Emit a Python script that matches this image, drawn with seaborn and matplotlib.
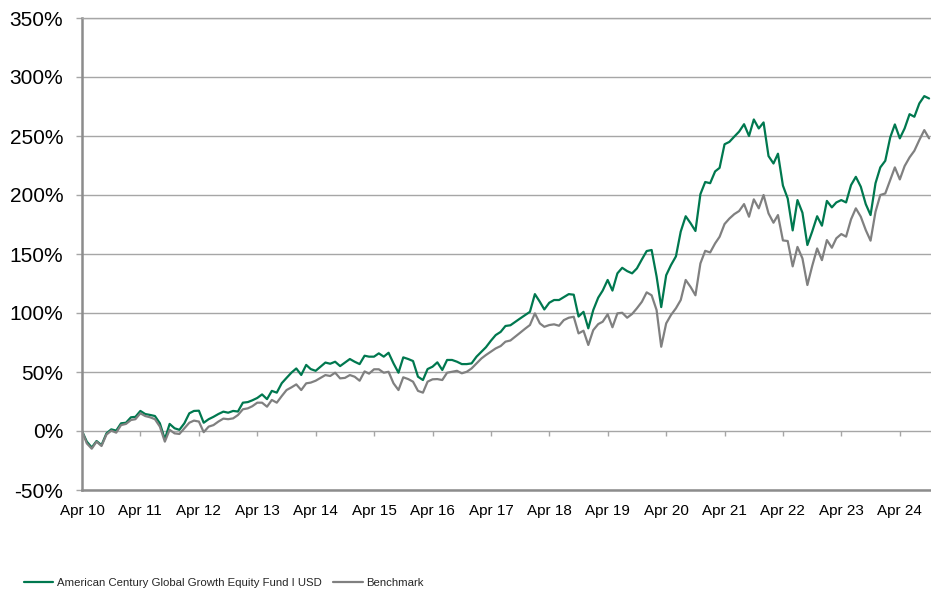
import pandas as pd
import numpy as np
import seaborn as sns
import matplotlib.pyplot as plt
import matplotlib.dates as mdates
from matplotlib.ticker import FuncFormatter

# cumulative growth, monthly from Apr 2010 (values in %)
fund = [
    0, -9, -14, -8.5, -12, -2, 1.4, 0.3, 6.5, 7,
    11.6, 12, 17, 14.4, 13.6, 12.7, 6.5, -7, 6, 2.3,
    1, 6.5, 15, 17, 17.2, 7, 10, 12, 14.4, 16.4,
    15.5, 17, 16.5, 24, 24.5, 26, 28, 31, 27, 34,
    32.5, 40.5, 45, 49.5, 53, 47.5, 56, 52.5, 51, 54.5,
    58, 57, 58.7, 55, 58, 61, 58.7, 56.7, 63.8, 63,
    63, 65.8, 63, 66.3, 57.3, 49.4, 62.4, 61, 59.3, 46,
    43.2, 52.5, 54.5, 58.2, 51.7, 60.2, 60.2, 58.7, 56.7, 56.7,
    57.3, 63, 67.2, 71, 76.5, 81.3, 84, 89, 89.6, 92.6,
    95.4, 98.3, 101, 116, 109.5, 103, 108.7, 111, 111, 113.5,
    116, 115.5, 97, 101, 87, 102.5, 113, 119, 128, 119,
    133.6, 138.3, 135.5, 133.6, 137.8, 145.4, 152.5, 153.4, 131, 105,
    132, 140.6, 148, 169, 182, 176, 169.5, 200.7, 211, 210,
    220, 223, 243, 245, 249.5, 253.7, 260, 250, 264, 256.4,
    261.5, 233, 226.7, 235, 208, 197, 170, 195.7, 185, 157.6,
    169, 182, 174, 195, 189.5, 193.7, 195.7, 193.7, 208.4, 215.4,
    207, 192.3, 183, 210, 223.4, 229, 248.8, 259.8, 248, 256.4,
    268.5, 266.3, 277.6, 283.8, 281.8,
]
benchmark = [
    0, -10.5, -15, -9, -12.7, -3, 0.3, -1.4, 5, 6,
    9.3, 10, 15, 12.7, 11.6, 10, 3.7, -9, 1, -2,
    -2.5, 2.3, 7, 8.8, 8, -1, 3.7, 5, 8, 10.5,
    10, 10.7, 13.5, 18.4, 19.2, 21, 24, 24, 20.6, 26.3,
    24, 29.6, 34.7, 37, 39.5, 34.7, 40.4, 41, 42.6, 45,
    47.4, 46.6, 49.4, 44.6, 45, 47.4, 46, 42.6, 50.5, 48.6,
    52.3, 52.3, 49.4, 50.2, 40.4, 34.7, 45.5, 44, 41.8, 34,
    32.5, 41.8, 43.8, 44, 43.2, 49.4, 50.2, 51, 48.9, 50.2,
    53, 57.3, 61.5, 64.4, 67.2, 70, 72, 75.7, 76.7, 80,
    83.3, 86.7, 89.8, 99.7, 91.2, 88.3, 89.8, 90.4, 89.2, 94,
    96, 96.8, 82.7, 85, 72.9, 85.5, 90.6, 92.6, 98.9, 87.9,
    99.7, 100.2, 96, 99.2, 104, 109.5, 117.5, 115, 102.5, 71.4,
    91.2, 98.3, 104, 111, 128, 122, 115, 142, 152.7, 151.3,
    159, 164.6, 175.4, 180, 183.8, 186.4, 192.3, 181.6, 196.3, 188.7,
    200, 184.4, 176.5, 183, 161.5, 161, 139.5, 156, 146.3, 123.7,
    139.8, 154.7, 144.8, 161.8, 155.3, 163.3, 166.9, 164.7, 179.4, 188.7,
    181.6, 170.3, 161.3, 185.8, 200, 201.3, 212.6, 223.4, 213.2, 224.5,
    231.9, 237.5, 246.6, 255, 248,
]
series_names = ['American Century Global Growth Equity Fund I USD', 'Benchmark']
series_colors = ['#00784F', '#808080']
start_month = '2010-04-01'
tick_years = list(range(2010, 2025))
y_ticks = [-50, 0, 50, 100, 150, 200, 250, 300, 350]

dates = pd.date_range(start_month, periods=len(fund), freq='MS')
df = pd.DataFrame({
    'date': np.concatenate([dates, dates]),
    'value': fund + benchmark,
    'series': [series_names[0]] * len(fund) + [series_names[1]] * len(benchmark),
})

sns.set_style('white')
plt.rcParams['font.family'] = ['Liberation Sans', 'DejaVu Sans']

fig = plt.figure(figsize=(9.31, 5.96), dpi=100)
ax = fig.add_axes([82 / 931, 1 - 490 / 596, 1 - 82 / 931, (490 - 18) / 596])

sns.lineplot(data=df, x='date', y='value', hue='series', palette=series_colors,
             linewidth=1.6, ax=ax, legend=False)

ax.set_ylim(-50, 350)
ax.set_yticks(y_ticks)
ax.yaxis.set_major_formatter(FuncFormatter(lambda v, p: f'{v:.0f}%'))
ax.grid(axis='y', color='#A6A6A6', linewidth=1)
ax.grid(axis='x', visible=False)

tick_dates = [pd.Timestamp(f'{y}-04-01') for y in tick_years]
ax.set_xticks(tick_dates)
ax.set_xticklabels([d.strftime('Apr %y') for d in tick_dates])
ax.set_xlim(dates[0], dates[-1] + pd.Timedelta(days=12))
ax.set_xlabel('')
ax.set_ylabel('')

for side in ['left', 'bottom']:
    ax.spines[side].set_color('#8C8C8C')
    ax.spines[side].set_linewidth(1.8)
ax.spines['top'].set_color('#A6A6A6')
ax.spines['top'].set_linewidth(1)
ax.spines['right'].set_visible(False)

ax.tick_params(axis='y', left=True, length=4.5, width=1, color='#A6A6A6',
               pad=9, labelsize=15, labelcolor='black')
ax.tick_params(axis='x', bottom=False, length=0, pad=10, labelsize=11, labelcolor='black')

# small tick marks sit on the 0% line
zero_axis = ax.secondary_xaxis(50 / 400)
zero_axis.spines['bottom'].set_visible(False)
zero_axis.set_xticks(mdates.date2num(tick_dates))
zero_axis.tick_params(axis='x', direction='out', length=3.5, width=1, color='#A6A6A6',
                      labelbottom=False)

handles = [plt.Line2D([], [], color=c, linewidth=1.6) for c in series_colors]
fig.legend(handles, series_names, loc='center left', bbox_to_anchor=(18 / 931, 1 - 583 / 596),
           ncol=2, frameon=False, borderpad=0, handlelength=2.6, handletextpad=0.3,
           columnspacing=1.05, prop={'size': 8.2})

fig.savefig('out.png', dpi=100)
